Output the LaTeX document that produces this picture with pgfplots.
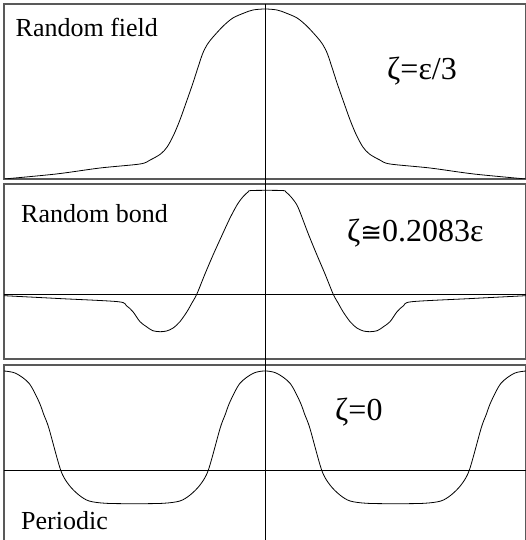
\documentclass[border=0pt]{standalone}
\usepackage{fontspec}
\setmainfont{Liberation Serif}
\newfontfamily\lserif{Liberation Serif}
\newfontfamily\dvsans{DejaVu Sans}
\usepackage{pgfplots}
\pgfplotsset{compat=1.18}
\usepackage{pgfplotstable}

\pgfplotstableread{
x y
-1.000 0
-0.800 5
-0.632 11
-0.479 15
-0.440 19
-0.400 25
-0.375 32
-0.350 44
-0.326 59
-0.300 78
-0.276 96
-0.255 113
-0.238 126
-0.220 135
-0.199 142
-0.160 153
-0.123 161
-0.080 166
-0.046 169
0.000 170
0.046 169
0.080 166
0.123 161
0.160 153
0.199 142
0.220 135
0.238 126
0.255 113
0.276 96
0.300 78
0.326 59
0.350 44
0.375 32
0.400 25
0.440 19
0.479 15
0.632 11
0.800 5
1.000 0
}\fieldtab

\pgfplotstableread{
x y
-1.000 -1.7
-0.785 -4.6
-0.563 -7.7
-0.531 -11.7
-0.506 -17.7
-0.479 -27.7
-0.454 -32.7
-0.430 -36.7
-0.402 -37.7
-0.377 -37.0
-0.352 -34.0
-0.326 -27.7
-0.299 -17.7
-0.280 -9
-0.261 0
-0.230 20
-0.199 39
-0.166 58
-0.134 76
-0.105 90
-0.084 97.3
-0.065 102
-0.050 103.5
0.065 103.5
0.080 102
0.099 97.3
0.120 90
0.134 82
0.166 60
0.199 39
0.230 20
0.261 0
0.280 -9
0.299 -17.7
0.326 -27.7
0.352 -34.0
0.377 -37.0
0.402 -37.7
0.430 -36.7
0.454 -32.7
0.479 -27.7
0.506 -17.7
0.531 -11.7
0.563 -7.7
0.785 -4.6
1.000 -1.7
}\bondtab

\pgfplotstableread{
x y
-1.000 99
-0.955 96.7
-0.904 86.7
-0.866 68.3
-0.847 55
-0.828 41.7
-0.783 0
-0.751 -15
-0.713 -25
-0.674 -31
-0.610 -33.3
-0.500 -33.7
-0.390 -33.3
-0.326 -31
-0.287 -25
-0.249 -15
-0.217 0
-0.172 41.7
-0.153 55
-0.134 68.3
-0.096 86.7
-0.045 96.7
0.000 99
0.045 96.7
0.096 86.7
0.134 68.3
0.153 55
0.172 41.7
0.217 0
0.249 -15
0.287 -25
0.326 -31
0.390 -33.3
0.500 -33.7
0.610 -33.3
0.674 -31
0.713 -25
0.751 -15
0.783 0
0.828 41.7
0.847 55
0.866 68.3
0.904 86.7
0.955 96.7
1.000 99
}\pertab

\begin{document}
\begin{tikzpicture}[x=1pt,y=1pt]
\pgfplotsset{
  panel/.style={
    scale only axis, width=522pt, anchor=north west,
    xmin=-1, xmax=1, ticks=none,
    axis line style={draw=black!65, line width=1.3pt},
  },
}
% Panel 1
\begin{axis}[panel, at={(4pt,536pt)}, height=175pt, ymin=0, ymax=175]
\addplot[black, line width=0.8pt, smooth, tension=0.5] table[x=x,y=y]{\fieldtab};
\end{axis}
% Panel 2
\begin{axis}[panel, at={(4pt,356pt)}, height=175pt, ymin=-65, ymax=110]
\draw[black, line width=0.8pt] (axis cs:-1,0) -- (axis cs:1,0);
\addplot[black, line width=0.8pt, smooth, tension=0.5] table[x=x,y=y]{\bondtab};
\end{axis}
% Panel 3
\begin{axis}[panel, at={(4pt,175pt)}, height=180pt, ymin=-75, ymax=105]
\draw[black, line width=0.8pt] (axis cs:-1,0) -- (axis cs:1,0);
\addplot[black, line width=0.8pt, smooth, tension=0.5] table[x=x,y=y]{\pertab};
\end{axis}
% central vertical line
\draw[black, line width=0.9pt] (265pt,0pt) -- (265pt,536pt);
% labels
\node[anchor=base west, inner sep=0pt, font=\lserif\fontsize{26}{30}\selectfont] at (15.5pt,503.5pt) {Random field};
\node[anchor=base west, inner sep=0pt, font=\lserif\fontsize{32}{36}\selectfont] at (387pt,460pt) {ζ=ε/3};
\node[anchor=base west, inner sep=0pt, font=\lserif\fontsize{26}{30}\selectfont] at (21pt,317pt) {Random bond};
\node[anchor=base west, inner sep=0pt, font=\lserif\fontsize{32}{36}\selectfont] at (347pt,298pt) {ζ{\dvsans\fontsize{26}{30}\selectfont ≅}0.2083ε};
\node[anchor=base west, inner sep=0pt, font=\lserif\fontsize{32}{36}\selectfont] at (335pt,119pt) {ζ=0};
\node[anchor=base west, inner sep=0pt, font=\lserif\fontsize{26}{30}\selectfont] at (21pt,10pt) {Periodic};
\pgfresetboundingbox
\path[use as bounding box] (0pt,0pt) rectangle (525pt,540pt);
\end{tikzpicture}
\end{document}
